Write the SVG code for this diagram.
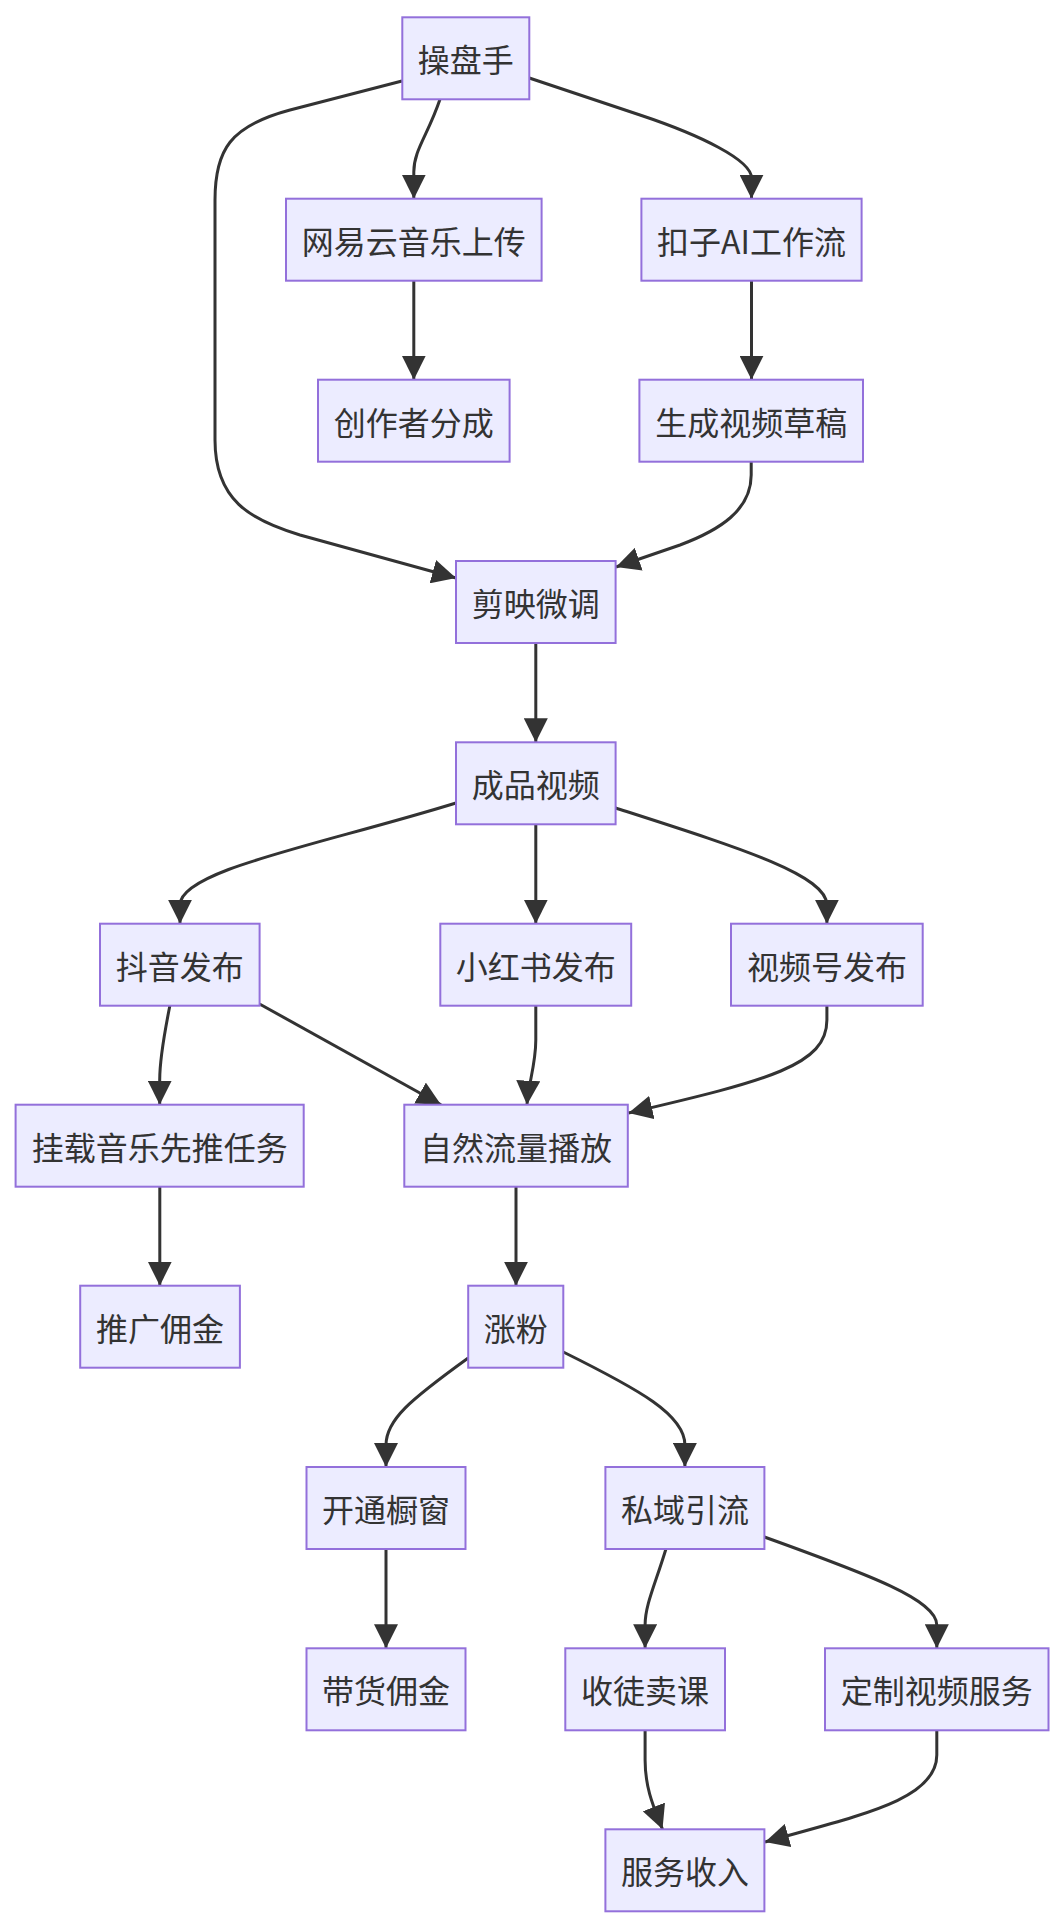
<svg xmlns="http://www.w3.org/2000/svg" width="1060" height="1928" viewBox="0 0 1060 1928">
<style>
.node rect{fill:#ECECFF;stroke:#9370DB;stroke-width:2}
.node text{font-family:"Noto Sans CJK SC","Noto Sans",sans-serif;font-size:32px;fill:#333;text-anchor:middle;dominant-baseline:central}
.edges path{fill:none;stroke:#333;stroke-width:3;marker-end:url(#arrow)}
</style>
<defs>
<marker id="arrow" viewBox="0 0 10 10" refX="10" refY="5" markerUnits="userSpaceOnUse" markerWidth="24" markerHeight="24" orient="auto">
<path d="M0,0 L10,5 L0,10 z" fill="#333"/>
</marker>
</defs>
<rect width="1060" height="1928" fill="#fff"/>
<g class="edges">
<path d="M440,99.3 C428,135 413.8,150 413.8,172 L413.8,198.7"/>
<path d="M529.3,78 L640,115 C700,135 751.5,160 751.5,178 L751.5,198.7"/>
<path d="M402,81 L290,110 C230,126 215,150 215,200 L215,440 C215,500 250,520 300,535 L456,578"/>
<path d="M413.8,280.7 L413.8,379.7"/>
<path d="M751.5,280.7 L751.5,379.7"/>
<path d="M751.2,462 L751.2,475 C751.2,510 720,530 680,545 L616,567"/>
<path d="M535.8,643 L535.8,742.3"/>
<path d="M456,803 C320,845 180,870 180,905 L180,923.7"/>
<path d="M535.8,824.3 L535.8,923.7"/>
<path d="M615.6,808 C740,848 826.9,875 826.9,905 L826.9,923.7"/>
<path d="M170,1005 C163,1040 159.7,1060 159.7,1080 L159.7,1104.7"/>
<path d="M259.6,1004 L441,1104.7"/>
<path d="M535.8,1005 L535.8,1040 C535.8,1065 528,1085 527,1104.7"/>
<path d="M826.9,1005 L826.9,1020 C826.9,1065 770,1080 628.5,1113"/>
<path d="M159.8,1186.7 L159.8,1285.7"/>
<path d="M516,1186.7 L516,1285.7"/>
<path d="M468.2,1358 C410,1400 386,1420 386,1445 L386,1467"/>
<path d="M563.3,1352 C640,1390 684.9,1415 684.9,1445 L684.9,1467"/>
<path d="M386,1548.7 L386,1648.3"/>
<path d="M666,1548.7 C655,1585 645.1,1605 645.1,1625 L645.1,1648.3"/>
<path d="M764.4,1537 C870,1575 936.8,1600 936.8,1625 L936.8,1648.3"/>
<path d="M645.1,1730 L645.1,1760 C645.1,1790 655,1810 662.5,1829.3"/>
<path d="M936.8,1730 L936.8,1755 C936.8,1800 860,1815 765,1842"/>
</g>
<g id="n1" class="node"><rect x="402.3" y="17.3" width="127" height="82"/><text x="465.8" y="58.3">操盘手</text></g>
<g id="n2" class="node"><rect x="286" y="198.7" width="255.6" height="82"/><text x="413.8" y="239.7">网易云音乐上传</text></g>
<g id="n3" class="node"><rect x="641.4" y="198.7" width="220.2" height="82"/><text x="751.5" y="239.7">扣子AI工作流</text></g>
<g id="n4" class="node"><rect x="318" y="379.7" width="191.6" height="82"/><text x="413.8" y="420.7">创作者分成</text></g>
<g id="n5" class="node"><rect x="639.4" y="379.7" width="223.6" height="82"/><text x="751.2" y="420.7">生成视频草稿</text></g>
<g id="n6" class="node"><rect x="456" y="561" width="159.6" height="82"/><text x="535.8" y="602">剪映微调</text></g>
<g id="n7" class="node"><rect x="456" y="742.3" width="159.6" height="82"/><text x="535.8" y="783.3">成品视频</text></g>
<g id="n8" class="node"><rect x="100" y="923.7" width="159.6" height="82"/><text x="179.8" y="964.7">抖音发布</text></g>
<g id="n9" class="node"><rect x="440.3" y="923.7" width="190.9" height="82"/><text x="535.8" y="964.7">小红书发布</text></g>
<g id="n10" class="node"><rect x="731" y="923.7" width="191.7" height="82"/><text x="826.9" y="964.7">视频号发布</text></g>
<g id="n11" class="node"><rect x="15.6" y="1104.7" width="288.1" height="82"/><text x="159.7" y="1145.7">挂载音乐先推任务</text></g>
<g id="n12" class="node"><rect x="404.3" y="1104.7" width="223.5" height="82"/><text x="516" y="1145.7">自然流量播放</text></g>
<g id="n13" class="node"><rect x="80.2" y="1285.7" width="159.7" height="82"/><text x="160" y="1326.7">推广佣金</text></g>
<g id="n14" class="node"><rect x="468.2" y="1285.7" width="95.1" height="82"/><text x="515.8" y="1326.7">涨粉</text></g>
<g id="n15" class="node"><rect x="306.5" y="1467" width="159" height="82"/><text x="386" y="1508">开通橱窗</text></g>
<g id="n16" class="node"><rect x="605.4" y="1467" width="159" height="82"/><text x="684.9" y="1508">私域引流</text></g>
<g id="n17" class="node"><rect x="306.5" y="1648.3" width="159" height="82"/><text x="386" y="1689.3">带货佣金</text></g>
<g id="n18" class="node"><rect x="565.3" y="1648.3" width="159.7" height="82"/><text x="645.1" y="1689.3">收徒卖课</text></g>
<g id="n19" class="node"><rect x="825" y="1648.3" width="223.5" height="82"/><text x="936.8" y="1689.3">定制视频服务</text></g>
<g id="n20" class="node"><rect x="605.4" y="1829.3" width="159" height="82"/><text x="684.9" y="1870.3">服务收入</text></g>
</svg>
